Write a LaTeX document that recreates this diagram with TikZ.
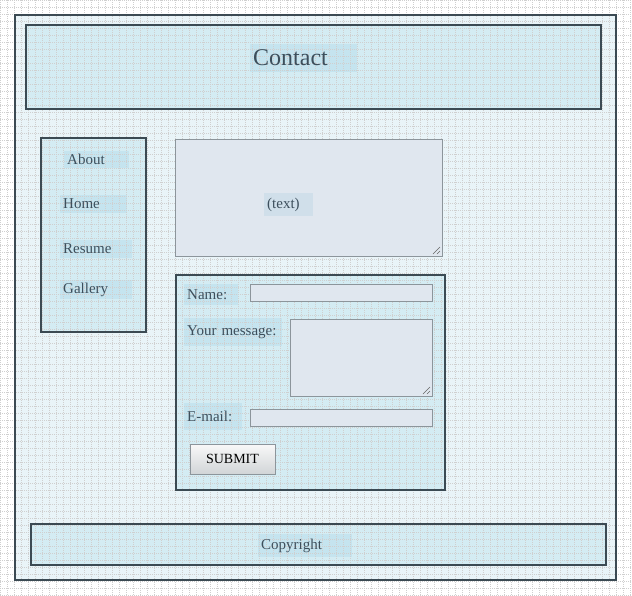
\documentclass[tikz,border=0pt]{standalone}
\usepackage{fontspec}
\setmainfont{Liberation Serif}
\usepackage{tikz}
\usetikzlibrary{backgrounds}
\definecolor{pageblue}{HTML}{E9F4F8}
\definecolor{panelblue}{HTML}{D4ECF3}
\definecolor{tagblue}{HTML}{C5E4EF}
\definecolor{notefill}{HTML}{D0DFEA}
\definecolor{fieldgray}{HTML}{E0E7EF}
\definecolor{edgedark}{HTML}{3B4A53}
\definecolor{edgegray}{HTML}{8C959B}
\definecolor{inkslate}{HTML}{3D4F5C}

\begin{document}
\begin{tikzpicture}[x=1pt, y=-1pt,
    frame/.style={draw=edgedark, line width=2.2pt},
    field/.style={fill=fieldgray, draw=edgegray, line width=1pt},
    grip/.style={draw=gray!80!black, line width=0.6pt},
    gridline/.style={gray!38, line width=0.5pt, dash pattern=on 1pt off 1pt},
    tag/.style={text=inkslate, inner xsep=3pt, inner ysep=0pt, anchor=west, align=left, font=\fontsize{15}{18}\selectfont},
    button/.style={draw=edgegray, line width=1pt, top color=gray!5, bottom color=edgegray!40, minimum width=85pt, minimum height=30pt, inner sep=0pt, font=\fontsize{14}{16}\selectfont}]
        \useasboundingbox (0,0) rectangle (632,595);
        % frames
        \foreach \xa/\ya/\xb/\yb in {15/15/616/580, 26/25/601/109, 41/138/146/332, 176/275/445/490, 31/524/606/565}{
            \draw[frame] (\xa,\ya) rectangle (\xb,\yb);
        }
        % fields
        \draw[field] (175,139) rectangle (442,256) coordinate (textend);
        \draw[field] (250,284) rectangle (432,301);
        \draw[field] (290,319) rectangle (432,396) coordinate (msgend);
        \draw[field] (250,409) rectangle (432,426);
        \foreach \c in {textend,msgend}{
            \draw[grip] ([shift={(-9,-2)}]\c) -- ([shift={(-2,-9)}]\c)
                        ([shift={(-5,-2)}]\c) -- ([shift={(-2,-5)}]\c);
        }
        \node[button] (submit) at (232.5,459) {SUBMIT};
        % labels
        \node[tag, font=\fontsize{24}{26}\selectfont, text width=101pt, minimum height=28pt] (title) at (250,58) {Contact};
        \node[tag, text width=59pt, minimum height=17pt] (about) at (64,159.5) {About};
        \node[tag, text width=61pt, minimum height=18pt] (home) at (60,204) {Home};
        \node[tag, text width=66pt, minimum height=18pt] (resume) at (60,249) {Resume};
        \node[tag, text width=66pt, minimum height=19pt] (gallery) at (60,289.5) {Gallery};
        \node[tag, fill=notefill, text width=43pt, minimum height=23pt] (note) at (264,204.5) {(text)};
        \node[tag, text width=48pt, minimum height=21pt] (namelbl) at (184,294.5) {Name:};
        \node[tag, text width=92pt, minimum height=28pt] (msglbl) at (184,332) {Your message:};
        \node[tag, text width=52pt, minimum height=27pt] (maillbl) at (184,416.5) {E-mail:};
        \node[tag, text width=88pt, minimum height=23pt] (copy) at (258,545.5) {Copyright};
        % fills and grid behind
        \begin{scope}[on background layer]
            \fill[white] (0,0) rectangle (632,595);
            \fill[pageblue] (15,15) rectangle (616,580);
            \foreach \xa/\ya/\xb/\yb in {26/25/601/109, 41/138/146/332, 176/275/445/490, 31/524/606/565}{
                \fill[panelblue] (\xa,\ya) rectangle (\xb,\yb);
            }
            \foreach \t in {title,about,home,resume,gallery,namelbl,msglbl,maillbl,copy}{
                \fill[tagblue] (\t.south west) rectangle (\t.north east);
            }
            \foreach \x in {0,7,...,630}{
                \draw[gridline] (\x,0) -- (\x,595);
            }
            \foreach \y in {0,7,...,595}{
                \draw[gridline] (0,\y) -- (632,\y);
            }
        \end{scope}
    \end{tikzpicture}
\end{document}
